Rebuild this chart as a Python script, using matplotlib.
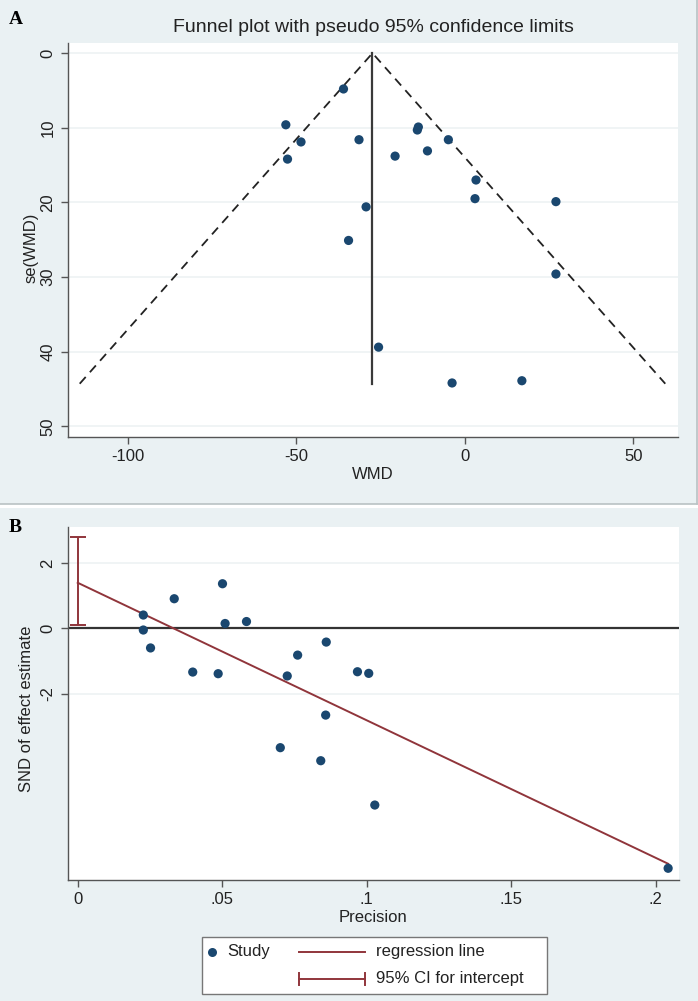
import matplotlib
matplotlib.use("Agg")
import matplotlib.pyplot as plt
from matplotlib.patches import Rectangle
from matplotlib.lines import Line2D
import numpy as np

plt.rcParams['font.family'] = ['Liberation Sans', 'DejaVu Sans']
plt.rcParams['axes.unicode_minus'] = False

# ---------------- data ----------------
# Panel A: funnel plot (WMD vs standard error)
wmd = [-36.0, -53.1, -48.6, -52.6, -34.5, -31.4, -29.3, -13.8, -14.1, -20.7,
       -11.1, -4.9, 3.3, 3.0, 27.0, 27.0, -25.6, -3.8, 16.9]
se_wmd = [4.8, 9.6, 11.9, 14.2, 25.1, 11.6, 20.6, 9.9, 10.3, 13.8,
          13.1, 11.6, 17.0, 19.5, 19.9, 29.6, 39.4, 44.2, 43.9]
pooled_wmd = -27.4
se_max = 44.3
z95 = 1.96

# Panel B: Egger regression (precision vs standard normal deviate)
precision = [0.0227, 0.0227, 0.0252, 0.0334, 0.0398, 0.0486, 0.0501, 0.0510,
             0.0584, 0.0725, 0.0761, 0.0860, 0.0968, 0.1007, 0.0858, 0.0701,
             0.0841, 0.1028, 0.2043]
snd = [0.41, -0.05, -0.60, 0.91, -1.34, -1.39, 1.37, 0.15,
       0.21, -1.46, -0.82, -0.42, -1.33, -1.38, -2.66, -3.66,
       -4.06, -5.42, -7.36]
reg_intercept = 1.40
reg_slope = -42.2
ci_intercept = [0.09, 2.79]

xticks_a = [-100, -50, 0, 50]
yticks_a = [0, 10, 20, 30, 40, 50]
xticks_b = [0, 0.05, 0.10, 0.15, 0.20]
xticklabels_b = ['0', '.05', '.1', '.15', '.2']
yticks_b = [2, 0, -2]

# ---------------- style ----------------
W, H = 698, 1001
BG = '#EAF1F3'
GRID = '#EDF2F4'
NAVY = '#1A476F'
MAROON = '#90353B'
AXC = '#555555'
TXT = '#222222'
FS_TICK = 12
FS_LAB = 12

fig = plt.figure(figsize=(W / 100, H / 100), dpi=100, facecolor=BG)


def frac_rect(x0, y0, x1, y1):
    return [x0 / W, 1 - y1 / H, (x1 - x0) / W, (y1 - y0) / H]


def fx(px):
    return px / W


def fy(py):
    return 1 - py / H


# panel separation
fig.patches.append(Rectangle((0, fy(508)), 1, (508 - 503.5) / H,
                             transform=fig.transFigure, facecolor='white',
                             edgecolor='none', zorder=0))
fig.lines.append(Line2D([0, fx(696.5)], [fy(503.5), fy(503.5)],
                        transform=fig.transFigure, color='#B9C2C4', lw=1.2))
fig.lines.append(Line2D([fx(696.5), fx(696.5)], [fy(0), fy(503.5)],
                        transform=fig.transFigure, color='#B9C2C4', lw=1.2))
fig.patches.append(Rectangle((fx(697.5), 0), 1, fy(508),
                             transform=fig.transFigure, facecolor='white',
                             edgecolor='none', zorder=0))


def style_axes(ax):
    ax.set_facecolor('white')
    for s in ['top', 'right']:
        ax.spines[s].set_visible(False)
    for s in ['left', 'bottom']:
        ax.spines[s].set_color(AXC)
        ax.spines[s].set_linewidth(1.0)
    ax.tick_params(axis='both', colors=AXC, labelcolor=TXT, labelsize=FS_TICK,
                   length=5, width=1.0, direction='out', pad=4)
    ax.grid(False)


# ---------------- Panel A ----------------
A_X0, A_Y0, A_X1, A_Y1 = 68, 42.7, 678, 436.7
axA = fig.add_axes(frac_rect(A_X0, A_Y0, A_X1, A_Y1))
style_axes(axA)
axA.set_xlim(-117.7, 63.2)
axA.set_ylim(51.4, -1.4)
for yv in yticks_a:
    axA.axhline(yv, color=GRID, lw=1.2, zorder=0)
axA.set_xticks(xticks_a)
axA.set_yticks(yticks_a)
for lab in axA.get_yticklabels():
    lab.set_rotation(90)
    lab.set_va('center')
axA.plot([pooled_wmd - z95 * se_max, pooled_wmd, pooled_wmd + z95 * se_max],
         [se_max, 0, se_max], color='#222222', lw=1.3, ls=(0, (5, 3.5)), zorder=2)
axA.plot([pooled_wmd, pooled_wmd], [0, se_max], color='#3a3a3a', lw=1.6, zorder=2)
axA.scatter(wmd, se_wmd, s=44, color=NAVY, edgecolors='none', zorder=3)
axA.set_xlabel('WMD', fontsize=FS_LAB, color=TXT, labelpad=2)
axA.set_ylabel('se(WMD)', fontsize=FS_LAB, color=TXT, va='center')
axA.yaxis.set_label_coords((31 - A_X0) / (A_X1 - A_X0),
                           1 - (248 - A_Y0) / (A_Y1 - A_Y0))
axA.set_title('Funnel plot with pseudo 95% confidence limits', fontsize=14,
              color=TXT, pad=8)
fig.text(fx(9), fy(20), 'A', fontsize=14, fontweight='bold',
         family=['Liberation Serif', 'DejaVu Serif'], va='center', ha='left')

# ---------------- Panel B ----------------
B_X0, B_Y0, B_X1, B_Y1 = 67.6, 526.7, 679.4, 880
axB = fig.add_axes(frac_rect(B_X0, B_Y0, B_X1, B_Y1))
style_axes(axB)
axB.set_xlim(-0.0035, 0.2082)
axB.set_ylim(-7.72, 3.12)
for yv in yticks_b:
    axB.axhline(yv, color=GRID, lw=1.2, zorder=0)
axB.axhline(0, color='#333333', lw=1.6, zorder=1)
axB.set_xticks(xticks_b)
axB.set_xticklabels(xticklabels_b)
axB.set_yticks(yticks_b)
for lab in axB.get_yticklabels():
    lab.set_rotation(90)
    lab.set_va('center')
xs = np.array([0, max(precision)])
axB.plot(xs, reg_intercept + reg_slope * xs, color=MAROON, lw=1.4, zorder=2)
axB.errorbar([0], [reg_intercept],
             yerr=[[reg_intercept - ci_intercept[0]], [ci_intercept[1] - reg_intercept]],
             fmt='none', ecolor=MAROON, elinewidth=1.4, capsize=6, capthick=1.4,
             zorder=2)
axB.scatter(precision, snd, s=44, color=NAVY, edgecolors='none', zorder=3)
axB.set_xlabel('Precision', fontsize=FS_LAB, color=TXT, labelpad=2)
axB.set_ylabel('SND of effect estimate', fontsize=FS_LAB, color=TXT, va='center')
axB.yaxis.set_label_coords((27 - B_X0) / (B_X1 - B_X0),
                           1 - (709 - B_Y0) / (B_Y1 - B_Y0))
fig.text(fx(9), fy(528), 'B', fontsize=14, fontweight='bold',
         family=['Liberation Serif', 'DejaVu Serif'], va='center', ha='left')

# ---------------- Legend (Panel B) ----------------
fig.patches.append(Rectangle((fx(201.7), fy(994.3)), (546.7 - 201.7) / W,
                             (994.3 - 936.7) / H, transform=fig.transFigure,
                             facecolor='white', edgecolor='#777777', lw=1.0))
fig.lines.append(Line2D([fx(211.5)], [fy(951.7)], transform=fig.transFigure,
                        marker='o', ms=6.5, color=NAVY, mec='none', ls='none'))
fig.text(fx(227), fy(951.7), 'Study', fontsize=FS_LAB, color=TXT, va='center')
fig.lines.append(Line2D([fx(299), fx(365)], [fy(951.7), fy(951.7)],
                        transform=fig.transFigure, color=MAROON, lw=1.4))
fig.text(fx(376), fy(951.7), 'regression line', fontsize=FS_LAB, color=TXT,
         va='center')
fig.lines.append(Line2D([fx(299), fx(365)], [fy(979), fy(979)],
                        transform=fig.transFigure, color=MAROON, lw=1.4))
for xc in (299, 365):
    fig.lines.append(Line2D([fx(xc), fx(xc)], [fy(973), fy(985)],
                            transform=fig.transFigure, color=MAROON, lw=1.4))
fig.text(fx(376), fy(979), '95% CI for intercept', fontsize=FS_LAB, color=TXT,
         va='center')

fig.savefig('out.png', dpi=100, facecolor=BG)
